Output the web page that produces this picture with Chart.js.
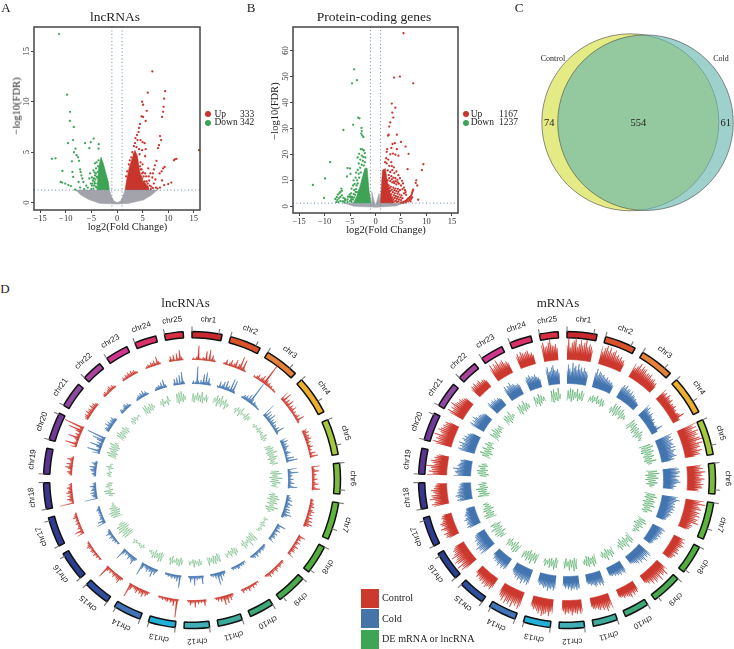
<!DOCTYPE html>
<html><head><meta charset="utf-8">
<script src="https://cdn.jsdelivr.net/npm/chart.js@4"></script>
<style>
html,body{margin:0;padding:0;background:#fff;width:734px;height:649px;overflow:hidden}
canvas{position:absolute;display:block}
.t{position:absolute;font-family:"Liberation Serif",serif;color:#222;white-space:pre;line-height:1}
</style></head><body>
<script>
// ---- volcano data ----
const volcanoXTicks=[-15,-10,-5,0,5,10,15];
const lncGrayShape=[[-8.18,1.25],[-1.49,1.25],[-1.04,.59],[-.58,.16],[.06,.03],[.71,.16],[1.1,.59],[1.56,1.25],[7.86,1.25],[6.75,.76],[5.13,.26],[2.18,-.07],[.06,-.13],[-3.31,-.07],[-5.58,.33],[-7.2,.82]];
const lncUpCore=[[1.56,1.25],[1.88,2.24],[2.4,3.55],[3.05,4.54],[3.5,5.2],[4,4.6],[4.4,3.2],[4.87,2.3],[6.1,1.6],[6.1,1.25]];
const lncDownCore=[[-3.9,1.25],[-3.6,3.5],[-3.12,4.54],[-2.66,3.88],[-2.14,2.9],[-1.69,2.07],[-1.49,1.25]];
const lncUp=[[6.9,13],[6,10.9],[9.4,11.05],[9.2,10.3],[4.9,10],[5.1,9.7],[9.1,9.5],[9,9],[5.8,9.1],[8.8,8.5],[4.8,8.55],[5.1,8.5],[5.6,8.1],[4.5,7.8],[4.3,7.4],[4.2,7],[3.9,6.7],[3.6,6.4],[4,6.2],[4.6,6.2],[5,6],[5.4,5.9],[3.5,5.9],[3.3,5.6],[3.8,5.5],[4.3,5.3],[4.9,5.2],[5.6,5.3],[16,5.2],[8.4,6.6],[8.6,6.2],[8.2,5.7],[8,5.4],[3,5],[3.3,4.8],[3.6,4.7],[4.4,4.8],[5.5,4.6],[11.3,4.3],[11.6,4.35],[11.1,4.2],[7.7,4.15],[9.3,3.55],[9,3.4],[8.7,3.1],[7.4,3.7],[7.2,3.3],[8.3,2.9],[7,2.9],[6.9,2.5],[7.5,2.3],[8.8,2.2],[10.6,2],[10,1.85],[9.2,1.75],[8.4,1.5],[7.2,1.9],[6.7,1.6],[6.3,2.2],[6,1.9],[5.7,2.6],[5.4,2.1],[5.1,3],[4.9,2.4],[4.6,3.3],[4.5,2.2],[5,1.6],[5.5,1.5],[4.6,4],[5,3.8],[2.3,3.8],[2.5,4.2],[2.8,4.5],[1.8,2.6],[2,3.1],[6.1,3.4],[5.9,1.45],[7.9,1.4],[7.6,1.5],[6.6,1.35],[4.5,3.6],[4.8,3.3],[5.2,2.6],[5.5,2.9],[5.8,2.1],[6.4,1.7],[7,1.45],[4.9,2.9],[4.7,2.6],[5.3,1.9],[5.7,1.6],[6.2,2.6],[6.5,2.9]];
const lncDown=[[-11.3,16.7],[-9.74,10.7],[-9.16,9],[-9.2,8.1],[-8.44,7.5],[-8.57,6.2],[-9.55,5.9],[-4.55,6.35],[-5.13,6],[-6.23,5.9],[-3.57,5.8],[-5.4,5.4],[-3.6,5.35],[-8.1,5.35],[-8.4,5],[-12.7,4.35],[-12,4.4],[-7.9,4.7],[-7.6,4.5],[-7.4,4.15],[-8.8,4.1],[-10.65,3.15],[-8.7,3.05],[-7.2,3.3],[-7.1,3.05],[-6.95,2.7],[-6.75,2.4],[-8.55,2.55],[-7.5,2.05],[-6.55,2.05],[-11,2.05],[-10.7,2],[-10.1,1.9],[-9.5,1.75],[-9,1.65],[-8.2,1.3],[-7.2,1.5],[-5.4,2.4],[-5.25,2.9],[-4.3,3.9],[-4.1,3.4],[-4.6,3.2],[-4.3,2.7],[-3.96,2.57],[-4.8,1.9],[-4.4,2.07],[-4.15,1.6],[-3.83,1.9],[-4.6,1.4],[-3.77,3.06],[-3.8,2.5],[-3.7,3.6],[-3.6,4.2],[-4,4],[-4.9,1.7],[-5,1.35],[-5.7,1.5],[-6,1.7],[-6.4,1.35],[-4.4,3],[-4.2,2.3],[-4.5,2.4],[-4.7,2.2],[-4.1,2.9],[-4.3,1.9],[-4,1.5],[-4.5,1.7],[-4.9,2.5],[-5.1,1.9]];
const codingGrayShape=[[-6.33,1.16],[-.85,1.16],[-.72,5.66],[-.33,2.44],[0,.39],[.33,2.44],[.72,5],[.91,1.16],[5.41,1.16],[4.1,.13],[.2,-.39],[-4.37,0]];
const codingUpCore=[[.91,1.16],[1.11,6.3],[1.37,14],[1.96,14.5],[2.28,10.15],[2.8,5.66],[3.59,1.16]];
const codingDownCore=[[-4.37,1.16],[-3.72,3.73],[-3.07,7.58],[-2.54,11.44],[-2.09,14.65],[-1.63,14.65],[-1.44,10.15],[-1.24,5.66],[-.85,1.16]];
const codingUp=[[5.5,66.7],[3.65,49.6],[4.8,50],[7.4,47.4],[3.2,39.6],[3.9,38],[3.3,36.1],[3.5,34.2],[2.9,32.3],[2.7,30.7],[2.6,27.6],[2.45,27.2],[4.2,27.6],[5,24.8],[3.8,24.3],[3.35,24],[5.9,23],[4.2,22],[3.1,22.5],[2.3,22],[2.2,21],[2.9,20],[3.4,20.3],[3.9,19.9],[2.1,18.5],[6.5,20.2],[4.5,19.5],[2.5,18],[3.1,17],[2.2,16.5],[2.7,15.6],[3.2,15.5],[3.6,15],[1.9,17],[9.4,16.2],[9.1,13.9],[6.3,14.3],[8,10],[7.9,9],[8.2,8],[8.4,2.5],[2.4,13.8],[2.9,13.2],[3.3,13.9],[3.7,12.8],[4.1,13.4],[4.5,12],[2.6,12],[3.1,11.6],[3.5,11],[3.9,10.8],[4.3,10.2],[4.8,10.8],[5.2,9.8],[2.4,10],[2.9,9.7],[3.3,9.2],[3.7,8.9],[4.1,8.4],[4.6,8.7],[5,8],[5.4,8.8],[2.6,8],[3,7.5],[3.5,7.2],[3.9,6.8],[4.4,6.7],[4.8,6.2],[5.3,6.6],[2.9,5.9],[3.4,5.4],[3.8,5],[4.3,4.9],[4.7,4.5],[5.1,4.2],[5.6,5],[2.9,4],[3.3,3.4],[3.8,3.2],[4.2,2.9],[4.6,2.6],[5,2.4],[2.7,2.5],[3.2,2],[3.7,1.8],[4.2,1.6],[4.9,1.4],[5.2,1.5],[5.5,1.7],[5.8,1.9],[6,2.2],[6.2,2.5],[6.4,2.9],[6.6,3.2],[6.8,3.6],[7,4],[7.1,4.6],[7.2,5.2],[7.3,5.8],[7.4,6.4],[5.5,1.3],[6,1.5],[6.4,1.9],[6.7,2.4],[7,2.8],[7.2,3.4],[6.9,1.9],[2.7,10.8],[3.2,10.4],[3.6,9.6],[4,9.6],[4.4,9.2],[2.8,7],[3.2,6.4],[3.7,6.2],[4.1,5.8],[4.5,5.6],[3.1,4.6],[3.6,4.2],[4,3.9],[4.4,3.6],[4.9,3.4],[5.3,3.1],[3,3],[3.5,2.6],[4,2.2],[4.5,1.9],[5.6,7.2],[5.8,6.2],[5.9,5.4],[6,4.4]];
const codingDown=[[-4.2,52.8],[-3.65,48.6],[-4.6,47.4],[-3.4,34.2],[-3.15,33.9],[-4.4,31.4],[-6.3,29.4],[-2.75,30.2],[-2.7,29],[-2.6,27.3],[-2.4,26.7],[-2.8,28],[-8.9,17],[-9.9,10.7],[-12.3,8.2],[-10.1,3.2],[-5.5,14.7],[-5,14.6],[-5.6,11.5],[-4.9,12.5],[-6.7,6.8],[-2.9,22],[-2.6,21.9],[-2.3,21.5],[-2.1,20.5],[-3.2,20.2],[-2.7,19.5],[-2.4,19],[-3.5,18.8],[-2,18.8],[-3,18],[-2.5,17.5],[-2.1,17],[-3.3,16.5],[-2.7,16],[-2.3,15.7],[-3,14.8],[-3.5,14],[-3.8,13],[-3.3,12.5],[-3.9,11],[-4.3,10],[-3.6,10],[-4.1,8.6],[-4.4,8],[-3.7,8],[-4.7,6.8],[-4.2,6.3],[-3.9,5.5],[-4.8,5],[-4.3,4.7],[-5.1,4.5],[-5,3.5],[-5.4,3.7],[-4.7,2.9],[-5.5,2.6],[-5.9,2.3],[-6.2,1.9],[-5,2],[-5.5,1.6],[-7.4,4.5],[-7.1,5],[-6.9,5.5],[-6.6,6],[-7.6,3.5],[-7.9,2.8],[-7.5,2.4],[-7.2,3],[-6.9,3.6],[-6.6,4.2],[-6.3,3.2],[-6.9,2],[-7.3,1.6],[-6.5,1.9],[-6.1,1.5],[-7.7,1.6],[-6,2.8],[-4.6,3.6],[-4.4,2.6],[-4.2,3.4],[-4.8,2.4],[-4,4.4],[-3.8,6.6],[-3.5,8.8],[-3.2,11],[-2.9,13],[-3.6,5.4],[-4.7,1.7],[-4.9,3.8]];
const foldCut=1, lncFdrCut=1.25, codingFdrCut=1.2;
// ---- venn data ----
const vennNames=["Control","Cold"], vennCounts=[74,554,61];
const vennCenters=[[630.3,122.3],[645.5,122.7]], vennRadii=[88.5,87.8];
// ---- circos data ----
const chromNames=["chr1","chr2","chr3","chr4","chr5","chr6","chr7","chr8","chr9","chr10","chr11","chr12","chr13","chr14","chr15","chr16","chr17","chr18","chr19","chr20","chr21","chr22","chr23","chr24","chr25"];
const chromSizes=[11.7,12.2,13.4,15.1,14,12,14.6,11.4,12,9.7,9.6,9.9,10.6,11,10.4,11.5,11.6,10.3,10,11,10,8,9,8.5,7.3];
const chromGap=3.408;
const chromColors=["#C9282E","#D9532B","#E6813A","#EDB02E","#A5C93E","#7DBB40","#5DB53E","#4FAE3E","#4BA94F","#3EA878","#3DAB9A","#3FAEB6","#22AFD8","#3F74B8","#2F4E9E","#2B3F8E","#2E3B91","#3B3590","#59358F","#6F3A98","#8E4A9F","#A8449C","#D1368F","#D9306A","#D92F45"];
const lncControl=[
[1,2,1,3,14,2,1,3,2,9,1,11,2,6,2,1],[1,2,5,1,3,6,2,4,8,2,5,13,3,11,2,1],[2,1,3,5,2,4,7,3,24,5,3,4,2,3,1,2,1,1],[9,3,10,2,6,3,8,2,5,3,6,2,4,2,3,5,2,8,2,1],[5,4,6,3,5,4,6,3,4,2,3,5,2,3,1,6,2,8,1],[8,2,3,7,2,4,3,2,5,2,3,6,2,3,8,1],[2,3,2,4,3,5,2,4,6,3,5,2,6,3,7,4,8,5,2],[1,7,3,4,2,5,3,2,6,3,4,5,2,3,7],[2,3,2,3,4,2,3,5,2,3,4,2,5,3,2,1],[2,1,3,2,4,2,3,5,2,3,2,4,1],[2,3,6,3,8,4,9,3,5,2,4,2,1],[2,6,2,3,2,4,2,7,2,3,5,2,1],[1,18,2,7,3,4,2,4,3,2,3,2,2,1],[1,3,5,3,7,4,5,3,6,4,3,2,6,14,1],[2,3,7,5,4,3,5,3,2,4,2,4,13,1],[1,2,1,3,2,4,2,3,4,2,3,5,3,2,1],[7,3,8,2,4,3,2,4,2,3,2,5,3,2,1],[14,2,4,6,3,5,2,6,4,3,5,2,3,1],[2,3,5,2,4,7,3,6,2,3,6,2,1],[6,2,12,3,2,4,11,3,5,2,6,14,3,20,1],[3,4,5,3,6,4,5,3,6,4,5,3,2],[2,3,4,2,3,4,5,3,4,2,1],[1,3,2,4,3,5,3,5,3,4,2,1],[1,2,3,2,4,3,5,2,8,3,1],[2,5,2,6,1,7,2,10,3,1]];
const lncCold=[
[1,3,1,2,17,3,1,4,2,10,2,12,3,7,2,1],[2,1,6,2,4,7,2,9,3,5,2,13,3,12,2,1],[1,2,4,3,5,3,8,4,23,5,2,4,3,2,2,1,1,1],[14,3,8,2,7,3,9,2,5,3,6,2,4,3,2,5,2,9,2,1],[6,3,7,3,5,3,6,4,3,2,4,6,2,3,1,8,2,11,1],[9,2,3,10,2,4,3,2,5,2,3,6,2,3,9,1],[3,2,4,3,6,2,4,7,3,5,2,6,3,7,3,9,5,3,2],[1,9,3,4,2,6,3,2,5,3,4,5,2,3,6],[2,2,3,3,4,2,3,4,2,3,5,2,4,3,2,1],[2,1,3,2,3,2,4,4,2,3,2,3,1],[2,3,5,3,9,4,12,3,5,2,3,2,1],[2,8,2,3,2,4,2,9,2,3,6,2,1],[1,12,2,6,3,4,2,4,3,2,3,2,2,1],[1,3,6,3,9,4,5,3,6,4,3,2,6,13,1],[2,3,8,5,4,3,6,3,2,4,2,5,12,1],[1,2,1,3,2,4,2,3,5,2,3,6,3,2,1],[9,3,7,2,4,3,2,3,2,3,2,4,3,2,1],[13,2,4,5,3,6,2,5,4,3,6,2,3,1],[2,3,4,2,5,6,3,7,2,3,5,2,1],[7,2,13,3,2,5,12,3,6,2,7,12,3,19,1],[3,5,4,3,7,4,6,3,5,4,6,3,2],[2,4,3,2,3,5,5,3,4,2,1],[1,2,3,4,3,5,3,6,3,4,2,1],[1,2,3,3,4,3,6,2,8,3,1],[2,6,2,7,1,9,2,12,3,1]];
const lncDE=[
[3,11,2,9,5,12,4,10,3,13,2,8,5,11,4,9],[4,10,6,13,2,11,5,14,3,10,6,12,2,9,5,8],[6,9,4,11,7,10,3,13,6,8,7,9,5,12,4,10,6,11],[6,8,5,9,7,8,6,11,5,9,7,10,6,8,5,12,4,10,6,8],[3,10,4,12,5,11,3,14,4,10,5,13,3,11,5,9,4,12,6],[4,12,3,14,5,10,2,15,4,11,3,13,5,9,4,11],[5,9,3,12,4,14,2,11,5,13,3,10,6,15,2,12,4,9,6],[5,10,6,8,7,9,5,11,6,8,7,10,6,9,5],[3,13,2,12,4,10,3,14,5,9,6,11,3,12,5,7],[5,10,4,12,3,9,5,11,4,8,6,10,5],[3,11,2,10,4,12,3,11,5,9,4,12,3],[6,10,4,11,6,9,5,12,4,8,6,10,5],[5,10,3,12,5,11,4,9,6,10,3,12,5,8],[4,12,3,13,4,10,5,11,3,12,6,9,5,8,6],[6,8,5,10,7,9,6,8,7,9,6,11,7,8],[3,13,2,14,3,12,4,15,2,13,3,14,4,10,5],[2,12,4,13,3,14,2,11,4,12,5,9,6,8,6],[5,9,3,12,6,13,4,8,7,11,5,10,4,8],[5,9,6,10,5,8,7,9,4,11,6,8,5],[3,12,4,14,3,11,5,13,4,12,3,14,5,10,6],[3,12,4,13,3,11,5,10,4,12,3,9,5],[5,9,4,11,6,10,5,8,7,9,6],[3,12,4,13,3,10,5,12,4,11,6,8],[5,9,3,11,5,6,8,3,12,6,7],[3,12,2,13,4,14,3,11,5,9]];
const mrnaControl=[
[14,21,12,17,19,22,13,16,20,15,18,21,14,17,15,12],[18,13,17,20,15,19,14,16,18,13,15,12,14,11,12,9],[15,11,14,18,13,17,15,16,12,14,13,15,11,12,13,10,11,8],[14,10,12,9,13,11,10,12,8,10,9,11,8,9,7,9,10,14,7,8],[21,16,19,14,20,17,18,15,19,21,14,20,16,17,13,18,14,15,10],[15,13,16,12,18,14,15,12,17,14,13,16,14,15,11,12],[18,14,20,13,15,17,12,16,14,17,13,16,15,18,11,13,12,11,9],[12,10,13,11,14,12,10,12,11,13,9,12,10,10,8],[13,11,17,14,15,12,18,13,14,16,12,15,11,12,10,9],[10,12,11,13,10,14,12,11,10,11,9,9,8],[16,12,14,17,13,15,12,14,13,11,12,11,9],[12,14,11,14,13,12,15,11,13,12,14,11,10],[14,12,17,13,15,16,18,13,16,14,12,13,11,10],[15,18,13,16,14,19,13,17,15,18,12,17,14,13,10],[11,14,12,13,15,12,14,11,13,12,10,12,9,9],[14,18,15,20,13,17,19,16,14,19,15,13,14,12,10],[11,13,12,14,10,12,15,11,13,14,11,10,11,10,8],[15,17,14,13,18,15,16,12,14,16,13,12,11,10],[20,14,18,15,16,21,13,15,17,13,14,12,10],[16,19,14,17,15,20,13,15,18,16,14,15,13,14,10],[15,18,13,16,14,19,15,14,13,14,12,11,10],[11,13,12,14,11,12,13,10,11,10,8],[14,18,13,17,15,19,14,15,16,12,13,11],[13,15,12,16,14,13,14,15,11,12,9],[17,19,14,15,18,21,15,14,16,12]];
const mrnaCold=[
[13,19,15,12,21,16,18,14,20,15,17,13,17,14,13,11],[15,19,13,17,16,14,15,13,12,14,11,12,10,11,9,8],[12,15,13,16,12,14,13,11,14,10,12,11,9,10,8,8,7,7],[15,12,14,10,11,9,12,10,9,8,10,7,8,7,6,8,7,13,6,6],[18,15,16,13,17,14,15,16,13,17,12,16,14,13,14,16,11,13,9],[14,16,13,17,15,13,16,12,14,15,17,13,11,13,10,11],[16,14,18,15,13,14,12,15,13,15,12,14,11,13,12,11,10,10,8],[12,14,11,13,12,11,13,10,12,11,10,9,10,9,8],[14,16,13,15,12,17,14,13,15,11,14,12,11,10,9,9],[11,13,12,10,13,11,12,10,11,9,10,9,8],[13,15,12,14,11,13,14,12,11,12,10,10,8],[13,12,14,11,13,12,14,11,13,10,12,10,9],[13,15,12,14,13,16,12,13,14,12,11,12,10,9],[14,16,13,15,12,17,14,13,15,12,14,12,11,10,9],[12,13,11,14,12,11,14,12,11,12,10,11,8,8],[14,17,13,16,15,18,13,15,14,12,14,12,12,11,9],[12,14,11,13,12,11,14,12,10,12,11,10,9,9,8],[13,15,12,14,16,13,14,12,13,11,12,10,11,9],[17,13,15,16,14,18,12,14,13,12,11,12,9],[15,17,13,16,14,18,12,14,16,13,15,12,13,11,9],[14,16,12,15,13,17,14,12,13,12,11,10,9],[12,14,11,12,13,11,12,10,11,10,8],[13,16,12,15,14,17,13,14,12,11,12,10],[12,14,13,15,12,13,12,14,11,10,8],[16,18,13,14,17,19,14,13,15,11]];
const mrnaDE=[
[4,14,6,16,3,15,5,13,7,16,4,12,6,15,5,13],[5,11,7,13,6,12,8,14,6,11,7,13,5,12,6,10],[6,10,4,15,6,14,3,16,5,13,7,15,4,12,6,11,7,9],[4,15,3,13,7,14,5,12,4,13,6,11,3,14,5,12,7,10,6,9],[3,15,5,17,4,14,3,16,6,13,4,15,5,12,4,16,6,11,7],[4,15,6,17,3,14,5,16,3,13,6,15,4,12,7,10],[3,14,5,16,4,13,6,15,3,14,5,16,4,12,6,15,5,11,7],[4,13,6,15,5,12,3,14,6,11,5,13,7,10,6],[3,14,5,15,7,11,4,16,6,13,3,12,5,14,7,10],[4,12,6,14,5,11,3,15,6,12,4,10,6],[3,13,5,15,6,12,4,14,3,13,6,11,7],[4,14,3,16,5,12,4,15,6,11,3,13,6],[5,13,3,15,6,12,4,14,5,11,7,13,6,10],[3,14,5,12,4,16,6,13,3,15,5,12,6,14,7],[4,13,6,15,3,14,5,11,7,12,4,13,6,9],[5,12,7,14,3,15,6,13,4,16,5,12,3,14,7],[3,14,5,15,4,12,6,14,3,13,5,11,6,12,7],[4,15,3,13,6,14,5,16,4,12,6,13,5,10],[5,12,3,14,6,15,4,12,7,14,5,11,6],[4,13,6,16,3,12,5,15,6,11,4,14,7,12,6],[3,14,5,12,4,15,6,13,5,11,7,12,6],[4,13,6,14,3,12,5,15,6,10,7],[5,13,3,14,6,12,4,15,5,12,6,10],[4,14,6,12,3,15,5,13,7,11,6],[4,15,3,16,5,13,4,17,6,11]];
// ---- drawing helpers ----
const SERIF='"Liberation Serif"', SANS='"Liberation Sans"';
const RED='#C8352C',GREEN='#3FA356',GRAY='#A3A3AB',DOT='#6C8FAD';
function put(text,x,y,size,o={}){const d=document.createElement('div');d.className='t';d.textContent=text;d.style.left=x+'px';d.style.top=y+'px';d.style.fontSize=size+'px';
 d.style.transform=(o.left?'translate(0,-50%)':'translate(-50%,-50%)')+(o.rot?` rotate(${o.rot}deg)`:'');document.body.appendChild(d);}
function canvas(l,t,w,h){const c=document.createElement('canvas');c.width=w;c.height=h;c.style.left=l+'px';c.style.top=t+'px';c.style.width=w+'px';c.style.height=h+'px';document.body.appendChild(c);return c;}
function pts(a){return a.map(p=>({x:p[0],y:p[1]}));}
const frame={id:'frame',afterDatasetsDraw(ch){const a=ch.chartArea,c=ch.ctx;c.save();c.strokeStyle='#444';c.lineWidth=1.5;c.strokeRect(a.left,a.top,a.right-a.left,a.bottom-a.top);c.restore();}};
const uminus=v=>String(v).replace('-','\u2212');
function volcano(o){
 const shape=(a,col)=>({data:pts(a),showLine:true,fill:'shape',backgroundColor:col,borderColor:col,borderWidth:.5,pointRadius:0});
 const dots=(a,col)=>({data:pts(a),backgroundColor:col,borderWidth:0,pointRadius:1.15,showLine:false});
 const cut=(a)=>({data:a,showLine:true,fill:false,borderColor:DOT,borderWidth:1,borderDash:[1,2.5],pointRadius:0});
 new Chart(canvas(o.l,0,o.w,o.h),{type:'scatter',data:{datasets:[
  cut([{x:-16.2,y:o.cut},{x:16.2,y:o.cut}]),cut([{x:-foldCut,y:o.yMin},{x:-foldCut,y:o.yMax}]),cut([{x:foldCut,y:o.yMin},{x:foldCut,y:o.yMax}]),
  dots(o.up,RED),dots(o.down,GREEN),shape(o.upCore,RED),shape(o.downCore,GREEN),shape(o.gray,GRAY)]},
 options:{responsive:false,animation:false,events:[],layout:{autoPadding:false,padding:{left:0,right:5,top:o.top,bottom:0}},
  plugins:{legend:{display:false},tooltip:{enabled:false}},
  scales:{
   x:{type:'linear',min:-16.2,max:16.2,afterBuildTicks:s=>{s.ticks=volcanoXTicks.map(v=>({value:v}));},afterFit:s=>{s.height=o.xh;},grid:{display:true,drawOnChartArea:false,drawTicks:true,tickLength:3,color:'#444'},border:{display:false},ticks:{maxRotation:0,padding:1,color:'#333',font:{family:SERIF,size:8.5},callback:uminus}},
   y:{type:'linear',min:o.yMin,max:o.yMax,afterFit:s=>{s.width=o.yw;},grid:{display:true,drawOnChartArea:false,drawTicks:true,tickLength:3,color:'#444'},border:{display:false},ticks:{stepSize:o.step,includeBounds:false,minRotation:90,maxRotation:90,crossAlign:'center',padding:0,color:'#333',font:{family:SERIF,size:8.5}}}}},
 plugins:[frame]});
}
volcano({l:0,w:205,h:232,top:27,xh:22,yw:34,yMin:-.72,yMax:17.4,step:5,cut:lncFdrCut,gray:lncGrayShape,upCore:lncUpCore,downCore:lncDownCore,up:lncUp,down:lncDown});
volcano({l:259,w:204,h:235,top:27,xh:22,yw:34,yMin:-2.6,yMax:69.1,step:10,cut:codingFdrCut,gray:codingGrayShape,upCore:codingUpCore,downCore:codingDownCore,up:codingUp,down:codingDown});
// venn
new Chart(canvas(530,20,204,210),{type:'bubble',data:{datasets:[
 {data:[{x:vennCenters[1][0],y:vennCenters[1][1],r:vennRadii[1]}],backgroundColor:'rgba(103,181,175,.64)',borderColor:'#444',borderWidth:.6},
 {data:[{x:vennCenters[0][0],y:vennCenters[0][1],r:vennRadii[0]}],backgroundColor:'#E4EB85',borderColor:'#444',borderWidth:.6}]},
 options:{responsive:false,animation:false,events:[],layout:{autoPadding:false},clip:false,plugins:{legend:{display:false},tooltip:{enabled:false}},
 scales:{x:{type:'linear',min:530,max:734,display:false},y:{type:'linear',min:20,max:230,reverse:true,display:false}}}});
// circos
const BINS=960,chromStarts=[];chromSizes.reduce((acc,s,i)=>{chromStarts[i]=acc;return acc+s+chromGap;},0);
// each listed value is one spike, separated from the next by a return to `rest`
function place(track,base,rest,useVal){const out=new Array(BINS).fill(null),step=360/BINS;track.forEach((vals,c)=>{const s=Math.round(chromStarts[c]/step);vals.forEach((v,i)=>{
  out[(s+2*i)%BINS]=base+(useVal?v:0);if(i<vals.length-1)out[(s+2*i+1)%BINS]=base+(useVal?rest:0);});});return out;}
const ringPlugin={id:'ringText',afterDatasetsDraw(ch){const r=ch.scales.r,c=ch.ctx,mul=BINS/360;c.save();
 chromNames.forEach((n,i)=>{const st=chromStarts[i],tk=[st];if(chromSizes[i]>=10.2)tk.push(st+10.4);
  c.strokeStyle='#777';c.lineWidth=1.1;tk.forEach(a=>{const p0=r.getPointPosition(a*mul,148),q=r.getPointPosition(a*mul,153.5);c.beginPath();c.moveTo(p0.x,p0.y);c.lineTo(q.x,q.y);c.stroke();});
  const mid=st+chromSizes[i]/2,p=r.getPointPosition(mid*mul,161);c.save();c.translate(p.x,p.y);c.rotate(mid*Math.PI/180);c.font='8px '+SANS;c.fillStyle='#222';c.textAlign='center';c.textBaseline='middle';c.fillText(n,0,0);c.restore();});
 c.restore();}};
function circos(l,red,blue,green,greenCol,greenW,rest,greenRest){
 const size=334,t=313,labels=new Array(BINS).fill('');
 const data=[],bg=[],bc=[];chromSizes.forEach((s,i)=>{data.push(s,chromGap);bg.push(chromColors[i],'rgba(0,0,0,0)');bc.push('#111','rgba(0,0,0,0)');});
 new Chart(canvas(l,t,size,size),{type:'doughnut',data:{labels:data.map(()=>''),datasets:[{data,backgroundColor:bg,borderColor:bc,borderWidth:1.5}]},
  options:{responsive:false,animation:false,events:[],radius:148.5,cutout:'95.8%',plugins:{legend:{display:false},tooltip:{enabled:false}}}});
 const track=(vals,base,col)=>({data:place(vals,base,rest,true),borderColor:col,borderWidth:.5,backgroundColor:col,fill:'+1',pointRadius:0,spanGaps:false,tension:0});
 const baseL=(vals,base,col)=>({data:place(vals,base,rest,false),borderColor:col,borderWidth:.7,fill:false,pointRadius:0,spanGaps:false,tension:0});
 new Chart(canvas(l,t,size,size),{type:'radar',data:{labels,datasets:[
  track(red,120.5,'rgb(205,56,46)'),baseL(red,120.5,'rgb(205,56,46)'),
  track(blue,96.5,'rgb(66,116,176)'),baseL(blue,96.5,'rgb(66,116,176)'),
  {data:place(green,75.5,greenRest,true),borderColor:greenCol,borderWidth:greenW,fill:false,pointRadius:0,spanGaps:false,tension:0}]},
  options:{responsive:false,animation:false,events:[],layout:{padding:0},plugins:{legend:{display:false},tooltip:{enabled:false}},
  scales:{r:{min:0,max:167,display:false,pointLabels:{display:false},ticks:{display:false},grid:{display:false},angleLines:{display:false}}}},
  plugins:[ringPlugin]});
}
circos(25,lncControl,lncCold,lncDE,'rgba(70,165,90,.85)',.55,0,7.5);
circos(400,mrnaControl,mrnaCold,mrnaDE,'rgba(55,160,80,.95)',.6,6,8.5);
// text
put('A',6,7,13);put('B',251,7,13);put('C',519,7,13);put('D',5,288,13);
put('lncRNAs',115,17,13.5);put('Protein-coding genes',374,17,13.5);
put('log2(Fold Change)',127.5,227,10.5);put('log2(Fold Change)',386,230,10.5);
put('\u2212log10(FDR)',17,105.7,10.5,{rot:-90});put('\u2212log10(FDR)',275,111,10.5,{rot:-90});
put('lncRNAs',185.5,302,13);put('mRNAs',558,302,13);
function dot(x,y,col){const d=document.createElement('div');d.style.cssText=`position:absolute;left:${x-3}px;top:${y-3}px;width:6px;height:6px;border-radius:50%;background:${col}`;document.body.appendChild(d);}
dot(208.3,114.3,RED);dot(208.3,122.7,GREEN);dot(465.7,114,RED);dot(465.7,123,GREEN);
put('Up',214.5,114.5,9.5,{left:1});put('Down',214.5,123,9.5,{left:1});put('333',240,114.5,9.5,{left:1});put('342',240,123,9.5,{left:1});
put('Up',470.7,114.5,9.5,{left:1});put('Down',470.7,123,9.5,{left:1});put('1167',499,114.5,9.5,{left:1});put('1237',499,123,9.5,{left:1});
put(vennNames[0],553,59,8);put(vennNames[1],721,59,8);
put(String(vennCounts[0]),549.3,123,10.5);put(String(vennCounts[1]),638.3,123,10.5);put(String(vennCounts[2]),725.7,123,10.5);
[['Control','#CC3A2E',588.5],['Cold','#4474A8',609],['DE mRNA or lncRNA','#3FA556',629.5]].forEach(r=>{const d=document.createElement('div');d.style.cssText=`position:absolute;left:361px;top:${r[2]}px;width:18px;height:19px;background:${r[1]}`;document.body.appendChild(d);put(r[0],382,r[2]+9.5,10.2,{left:1});});
</script></body></html>
